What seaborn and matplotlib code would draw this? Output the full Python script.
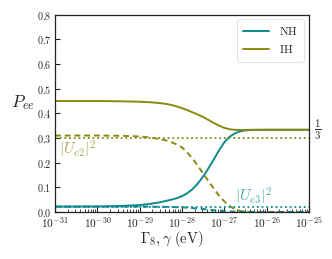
import numpy as np
import pandas as pd
import matplotlib
matplotlib.use("Agg")
import matplotlib.pyplot as plt
import seaborn as sns
from matplotlib.ticker import LogLocator, NullFormatter

# ---------------- data ----------------
log_gamma = [-31, -30.5, -30, -29.5, -29.25, -29, -28.75, -28.5, -28.375, -28.25,
             -28.125, -28, -27.875, -27.75, -27.625, -27.5, -27.375, -27.25,
             -27.125, -27, -26.875, -26.75, -26.625, -26.5, -26.25, -26, -25]
nh_solid = [0.022, 0.022, 0.0225, 0.024, 0.026, 0.028, 0.033, 0.040, 0.045, 0.050,
            0.056, 0.064, 0.076, 0.093, 0.116, 0.144, 0.177, 0.213,
            0.250, 0.283, 0.305, 0.319, 0.327, 0.331, 0.333, 0.3333, 0.3333]
ih_solid = [0.450, 0.450, 0.450, 0.449, 0.448, 0.447, 0.445, 0.441, 0.438, 0.434,
            0.428, 0.421, 0.413, 0.404, 0.395, 0.385, 0.373, 0.361,
            0.350, 0.341, 0.3355, 0.333, 0.3325, 0.333, 0.3333, 0.3333, 0.3333]
ih_dashed = [0.310, 0.310, 0.310, 0.309, 0.308, 0.306, 0.302, 0.295, 0.290, 0.283,
             0.274, 0.262, 0.241, 0.217, 0.187, 0.156, 0.125, 0.095,
             0.067, 0.043, 0.024, 0.011, 0.004, 0.001, 0.0, 0.0, 0.0]
nh_dashed = [0.022, 0.022, 0.022, 0.022, 0.022, 0.022, 0.0215, 0.021, 0.0205, 0.020,
             0.0195, 0.019, 0.0175, 0.016, 0.014, 0.012, 0.0095, 0.007,
             0.005, 0.003, 0.002, 0.001, 0.0005, 0.0, 0.0, 0.0, 0.0]
ue2_sq = 0.30
ue3_sq = 0.022

ytick_vals = [0.0, 0.1, 0.2, 0.3, 0.4, 0.5, 0.6, 0.7, 0.8]
ytick_labels = [r"$0.0$", r"$0.1$", r"$0.2$", r"$0.3$", r"$0.4$", r"$0.5$",
                r"$0.6$", r"$0.7$", r"$0.8$"]
xtick_exps = [-31, -30, -29, -28, -27, -26, -25]
xtick_labels = [r"$10^{-31}$", r"$10^{-30}$", r"$10^{-29}$", r"$10^{-28}$",
                r"$10^{-27}$", r"$10^{-26}$", r"$10^{-25}$"]

gamma = 10.0 ** np.array(log_gamma)
df = pd.DataFrame({"gamma": gamma, "NH": nh_solid, "IH": ih_solid,
                   "IH_d": ih_dashed, "NH_d": nh_dashed})

# ---------------- style ----------------
sns.set_style("ticks")
plt.rcParams["mathtext.fontset"] = "cm"
plt.rcParams["font.family"] = ["DejaVu Serif"]
plt.rcParams["xtick.direction"] = "in"
plt.rcParams["ytick.direction"] = "in"

teal = "#0e8a8c"
olive = "#8a8a12"

fig = plt.figure(figsize=(3.32, 2.59), dpi=100)
ax = fig.add_axes([0.1657, 0.1815, 0.7650, 0.7618])
ax.set_xscale("log")

sns.lineplot(data=df, x="gamma", y="NH", ax=ax, color=teal, lw=1.4, label=r"$\mathrm{NH}$")
sns.lineplot(data=df, x="gamma", y="IH", ax=ax, color=olive, lw=1.4, label=r"$\mathrm{IH}$")
sns.lineplot(data=df, x="gamma", y="IH_d", ax=ax, color=olive, lw=1.4,
             linestyle=(0, (3.0, 2.0)), legend=False)
sns.lineplot(data=df, x="gamma", y="NH_d", ax=ax, color=teal, lw=1.4,
             linestyle=(0, (3.0, 2.0)), legend=False)
ax.axhline(ue2_sq, color=olive, lw=1.3, linestyle=(0, (1, 1.6)))
ax.axhline(ue3_sq, color=teal, lw=1.3, linestyle=(0, (1, 1.6)))

ax.set_xlim(10.0 ** xtick_exps[0], 10.0 ** xtick_exps[-1])
ax.set_ylim(0, 0.8)
ax.set_xticks(10.0 ** np.array(xtick_exps), xtick_labels)
ax.xaxis.set_minor_locator(LogLocator(base=10, subs=np.arange(2, 10), numticks=100))
ax.xaxis.set_minor_formatter(NullFormatter())
ax.set_yticks(ytick_vals, ytick_labels)
ax.tick_params(axis="y", which="major", labelsize=7.3, length=3.5, width=0.8, pad=2.5)
ax.tick_params(axis="x", which="major", labelsize=8.2, length=3.5, width=0.8, pad=2.5)
ax.tick_params(axis="x", which="minor", length=2, width=0.6)
ax.tick_params(axis="y", which="minor", left=False)
for s in ax.spines.values():
    s.set_linewidth(0.9)
    s.set_color("#222222")

ax.set_xlabel("")
ax.set_ylabel("")
fig.text(0.068, 0.605, r"$P_{ee}$", fontsize=12.5, ha="center", va="center")
fig.text(0.518, 0.078, r"$\Gamma_8,\gamma\ (\mathrm{eV})$", fontsize=10.5,
         ha="center", va="center")

ax.text(1.25e-31, 0.252, r"$|U_{e2}|^2$", color=olive, alpha=0.75, fontsize=11,
        ha="left", va="center")
ax.text(1.75e-27, 0.062, r"$|U_{e3}|^2$", color=teal, alpha=0.75, fontsize=11,
        ha="left", va="center")
ax.text(1.02, 1 / 3, r"$\frac{1}{3}$", transform=ax.get_yaxis_transform(),
        fontsize=11, ha="left", va="center")

leg = ax.legend(loc="upper right", fontsize=8.4, frameon=True, handlelength=2.2,
                borderpad=0.5, labelspacing=0.4, handletextpad=0.9,
                borderaxespad=0.4)
leg.get_frame().set_edgecolor("#dddddd")
leg.get_frame().set_linewidth(0.8)

fig.savefig("out.png", dpi=100)
